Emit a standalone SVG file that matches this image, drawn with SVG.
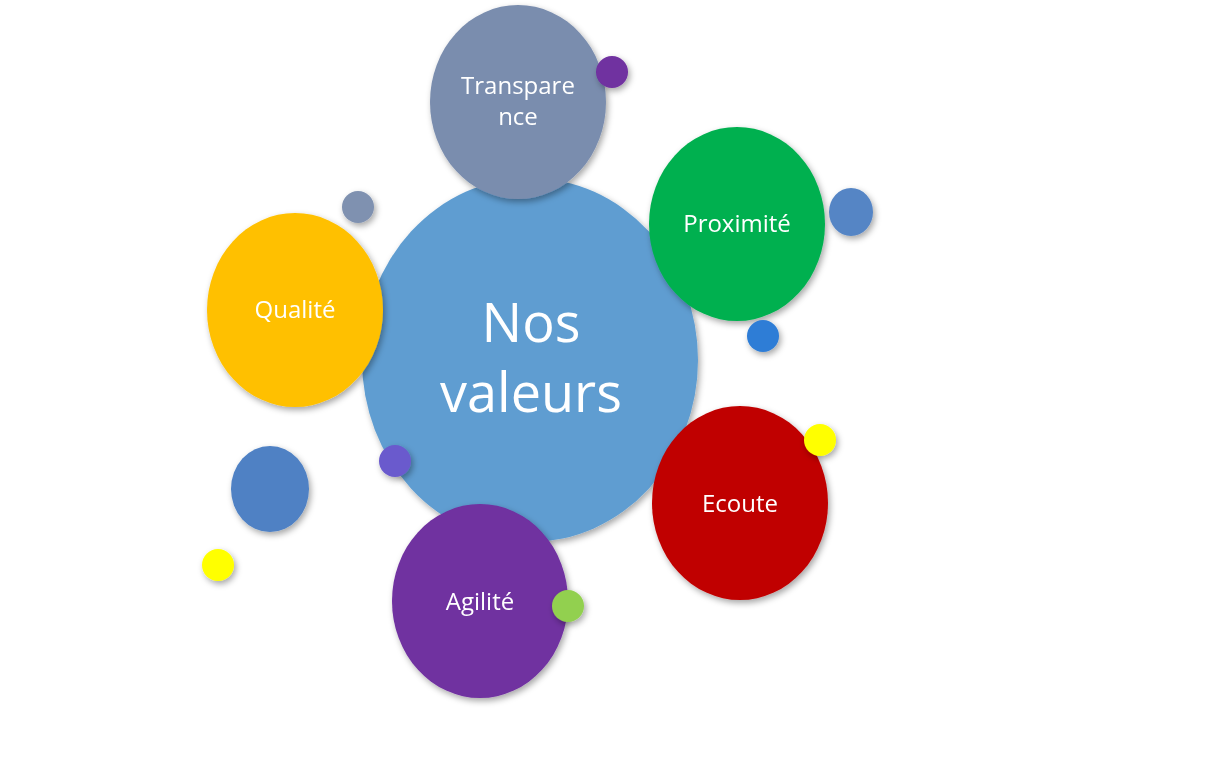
<svg xmlns="http://www.w3.org/2000/svg" width="1205" height="759" viewBox="0 0 1205 759">
<style>
text{font-family:"Open Sans","Liberation Sans",sans-serif;fill:#fff;text-anchor:middle}
.m{font-size:24px}
.b{font-size:54px}
</style>
<defs><filter id="s" x="-20%" y="-20%" width="140%" height="140%"><feDropShadow dx="2" dy="3" stdDeviation="3" flood-opacity="0.35"/></filter></defs>
<rect width="1205" height="759" fill="#fff"/>
<g id="center" filter="url(#s)"><ellipse cx="530" cy="360" rx="168" ry="182" fill="#5F9DD1"/><text class="b" x="531" y="342">Nos</text><text class="b" x="531" y="412">valeurs</text></g>
<g id="transparence" filter="url(#s)"><ellipse cx="518" cy="102" rx="88" ry="97" fill="#7A8DAE"/><text class="m" x="518" y="94">Transpare</text><text class="m" x="518" y="125">nce</text></g>
<g id="proximite" filter="url(#s)"><ellipse cx="737" cy="224" rx="88" ry="97" fill="#00B050"/><text class="m" x="737" y="232">Proximité</text></g>
<g id="ecoute" filter="url(#s)"><ellipse cx="740" cy="503" rx="88" ry="97" fill="#C00000"/><text class="m" x="740" y="512">Ecoute</text></g>
<g id="agilite" filter="url(#s)"><ellipse cx="480" cy="601" rx="88" ry="97" fill="#7030A0"/><text class="m" x="480" y="610">Agilité</text></g>
<g id="qualite" filter="url(#s)"><ellipse cx="295" cy="310" rx="88" ry="97" fill="#FFC000"/><text class="m" x="295" y="318">Qualité</text></g>
<g id="dots" filter="url(#s)">
<circle cx="612" cy="72" r="16" fill="#7030A0"/>
<circle cx="358" cy="207" r="16" fill="#7F91B0"/>
<ellipse cx="851" cy="212" rx="22" ry="24" fill="#5585C5"/>
<circle cx="763" cy="336" r="16" fill="#2E7DD6"/>
<circle cx="820" cy="440" r="16" fill="#FFFF00"/>
<circle cx="395" cy="461" r="16" fill="#6A5ACD"/>
<ellipse cx="270" cy="489" rx="39" ry="43" fill="#4F81C4"/>
<circle cx="218" cy="565" r="16" fill="#FFFF00"/>
<circle cx="568" cy="606" r="16" fill="#92D050"/>
</g>
<g id="connectors"/>
</svg>
